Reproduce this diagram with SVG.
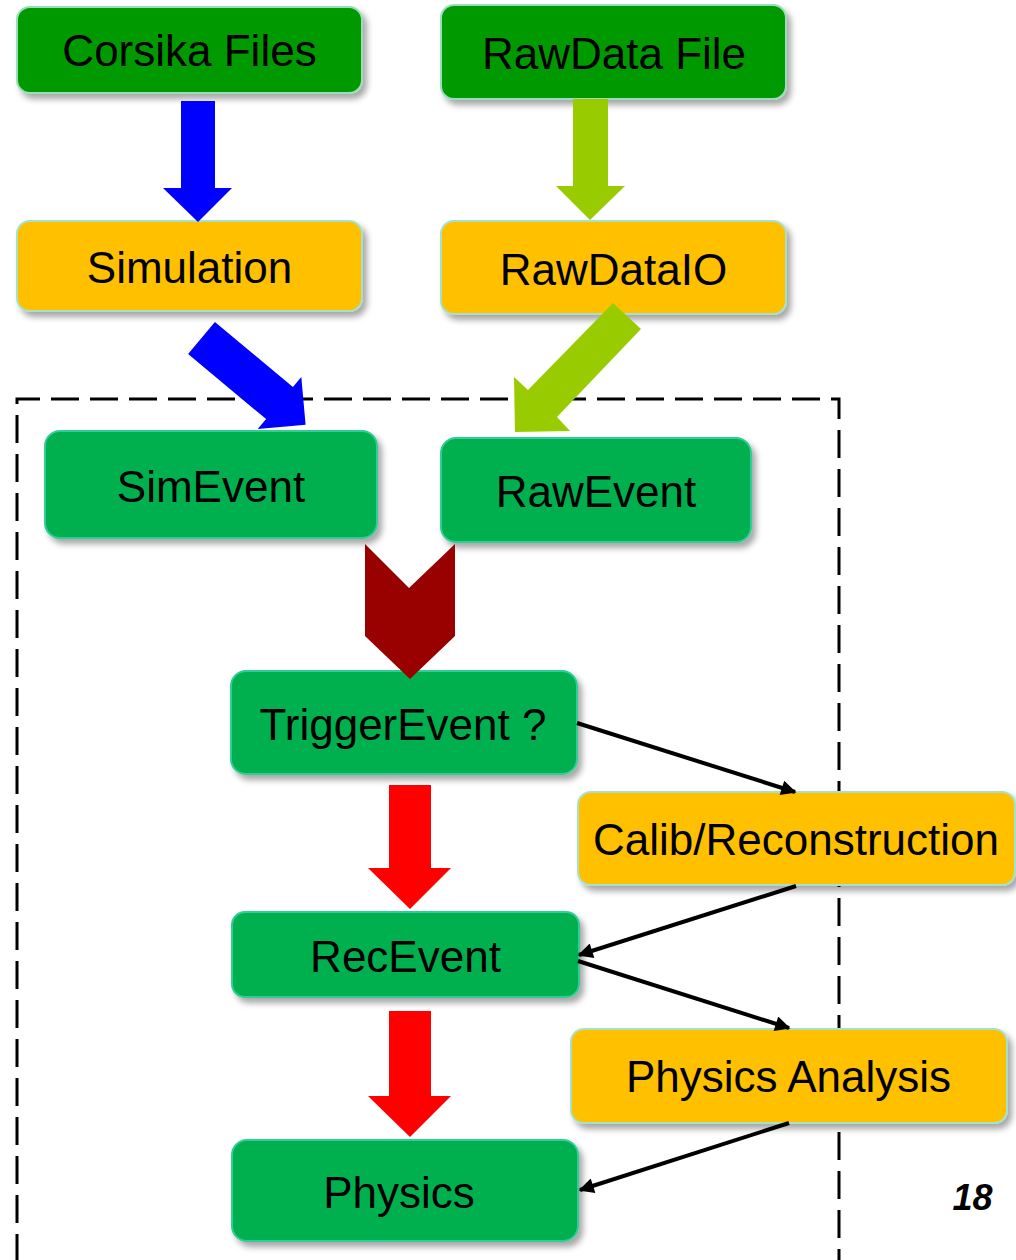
<svg xmlns="http://www.w3.org/2000/svg" width="1016" height="1260" viewBox="0 0 1016 1260">
<defs>
<filter id="sh" x="-10%" y="-20%" width="130%" height="160%">
<feDropShadow dx="4" dy="5" stdDeviation="3" flood-color="#000" flood-opacity="0.35"/>
</filter>
<marker id="ah" viewBox="0 0 10 10" refX="9" refY="5" markerWidth="4.6" markerHeight="3.8" markerUnits="strokeWidth" orient="auto">
<path d="M0,0 L10,5 L0,10 Z" fill="#000"/>
</marker>
<style>
.box{stroke-width:2;filter:url(#sh)}
.dg{fill:#009900;stroke:#99ddbb}
.lg{fill:#00b050;stroke:#33cc99}
.or{fill:#ffc000;stroke:#a8e0c8}
text{font-family:"Liberation Sans",Arial,sans-serif;font-size:44px;fill:#000;text-anchor:middle}
.ln{stroke:#000;stroke-width:4;fill:none;marker-end:url(#ah)}
</style>
</defs>
<rect width="1016" height="1260" fill="#fff"/>

<g id="dashed-frame">
<path d="M17,1262 V399 H839 V1262" fill="none" stroke="#000" stroke-width="3" stroke-dasharray="28 11"/>
</g>

<g id="corsika">
<rect class="box dg" x="17" y="7" width="345" height="86" rx="13"/>
<text x="189.5" y="66">Corsika Files</text>
</g>
<g id="rawdatafile">
<rect class="box dg" x="441" y="5" width="345" height="94" rx="13"/>
<text x="614" y="69">RawData File</text>
</g>
<g id="simulation">
<rect class="box or" x="17" y="221" width="345" height="90" rx="13"/>
<text x="189.5" y="283">Simulation</text>
</g>
<g id="rawdataio">
<rect class="box or" x="441" y="221" width="345" height="93" rx="13"/>
<text x="613.5" y="285">RawDataIO</text>
</g>
<g id="simevent">
<rect class="box lg" x="45" y="431" width="332" height="107" rx="15"/>
<text x="211" y="502">SimEvent</text>
</g>
<g id="rawevent">
<rect class="box lg" x="441" y="438" width="310" height="104" rx="15"/>
<text x="596" y="507">RawEvent</text>
</g>
<g id="triggerevent">
<rect class="box lg" x="231" y="671" width="346" height="103" rx="15"/>
<text x="403" y="740">TriggerEvent ?</text>
</g>
<g id="calib">
<rect class="box or" x="578" y="792" width="437" height="93" rx="13"/>
<text x="796" y="855">Calib/Reconstruction</text>
</g>
<g id="recevent">
<rect class="box lg" x="232" y="912" width="347" height="85" rx="13"/>
<text x="405.5" y="972">RecEvent</text>
</g>
<g id="physicsanalysis">
<rect class="box or" x="571" y="1029" width="436" height="94" rx="13"/>
<text x="788.5" y="1092">Physics Analysis</text>
</g>
<g id="physics">
<rect class="box lg" x="232" y="1140" width="346" height="101" rx="15"/>
<text x="399" y="1208">Physics</text>
</g>

<g id="connectors">
<polygon id="arr-corsika-sim" points="181,101 215,101 215,188 232,188 198,222 163,188 181,188" fill="#0000ff"/>
<polygon id="arr-raw-rawio" points="573,99 608,99 608,186 625,186 590,220 556,186 573,186" fill="#99cc00"/>
<polygon id="arr-sim-simevent" points="214.9,321.9 292.9,386.9 301.3,376.9 305.6,424.7 257.7,429.1 266.1,419.1 188.1,354.1" fill="#0000ff"/>
<polygon id="arr-rawio-rawevent" points="613,303 641,329 557,417 570,431 515,432 514,377 528,390" fill="#99cc00"/>
<polygon id="arr-events-trigger" points="365,544 409,588 455,544 455,636 410,679 365,636" fill="#990000"/>
<polygon id="arr-trigger-rec" points="389,785 431,785 431,868 451,868 410,909 368,868 389,868" fill="#ff0000"/>
<polygon id="arr-rec-physics" points="389,1011 431,1011 431,1096 451,1096 410,1137 368,1096 389,1096" fill="#ff0000"/>
<line class="ln" x1="577" y1="723" x2="795" y2="792"/>
<line class="ln" x1="796" y1="886" x2="579" y2="955"/>
<line class="ln" x1="578" y1="961" x2="789" y2="1028"/>
<line class="ln" x1="789" y1="1123" x2="580" y2="1190"/>
</g>

<g id="page-number">
<text x="972.5" y="1210" style="font-size:36px;font-weight:bold;font-style:italic">18</text>
</g>
</svg>
